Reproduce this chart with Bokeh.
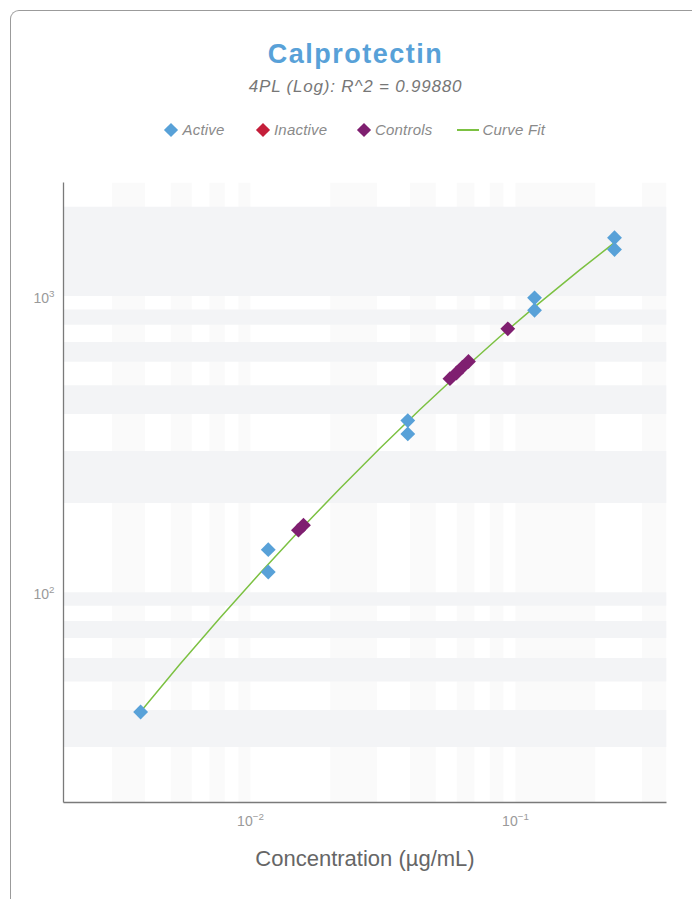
import math

from bokeh.embed import file_html
from bokeh.layouts import column
from bokeh.models import Div, FixedTicker
from bokeh.plotting import figure
from bokeh.resources import INLINE

# Calprotectin standard curve: concentration (µg/mL) vs. signal
active_conc = [0.00385, 0.01167, 0.01167, 0.03923, 0.03923, 0.1180, 0.1180, 0.2364, 0.2364]
active_signal = [39.4, 139.2, 117.0, 379.8, 342.4, 986.1, 895.5, 1572.8, 1436.0]

inactive_conc = []
inactive_signal = []

control_conc = [0.01517, 0.01585, 0.05658, 0.05989, 0.0631, 0.06647, 0.09353]
control_signal = [162.0, 168.4, 526.0, 549.5, 575.6, 600.9, 775.0]

# 4PL (log) fitted curve
fit_conc = [0.003862, 0.005396, 0.007638, 0.010813, 0.015308, 0.021670, 0.030682,
            0.043422, 0.061473, 0.087013, 0.12319, 0.17440, 0.23434]
fit_signal = [39.63, 56.90, 81.49, 115.37, 161.47, 223.18, 305.12,
              412.3, 550.7, 726.9, 948.5, 1223.2, 1504.7]

x_span = (0.00197, 0.3714)
y_span = (19.5, 2417.0)

title_text = "Calprotectin"
subtitle_text = "4PL (Log): R^2 = 0.99880"
x_title = "Concentration (µg/mL)"
legend_labels = ["Active", "Inactive", "Controls", "Curve Fit"]

FONT = "Liberation Sans"
BLUE = "#58a1d8"
RED = "#c41e3a"
PURPLE = "#7f1f70"
GREEN = "#7cc142"
CARD = "#9b9b9b"


def band_ticks(lo, hi):
    """Sub-decade values (1..9 x 10^k) inside (lo, hi), closed with the range end.

    The first value is dropped so that the shaded bands start on the
    second sub-division.
    """
    ticks = []
    for k in range(math.floor(math.log10(lo)), math.ceil(math.log10(hi)) + 1):
        for m in range(1, 10):
            t = m * 10.0 ** k
            if lo < t < hi:
                ticks.append(t)
    return ticks[1:] + [hi]


W = 681            # inner card width
HEAD_H = 150       # header block (title, subtitle, legend)
PLOT_H = 888 - HEAD_H
LEFT, RIGHT, TOP, BOTTOM = 52, 26, 21, 97

p = figure(
    width=W, height=PLOT_H,
    x_axis_type="log", y_axis_type="log",
    x_range=x_span, y_range=y_span,
    output_backend="svg", toolbar_location=None,
    min_border_left=LEFT, min_border_right=RIGHT,
    min_border_top=TOP, min_border_bottom=BOTTOM,
    margin=0,
)
p.outline_line_color = None
p.background_fill_color = "white"
p.border_fill_color = "white"

# alternating shaded bands between the log sub-divisions
p.xgrid.ticker = FixedTicker(ticks=band_ticks(*x_span))
p.xgrid.grid_line_color = None
p.xgrid.band_fill_color = "#fafafa"
p.xgrid.band_fill_alpha = 1.0
p.ygrid.ticker = FixedTicker(ticks=band_ticks(*y_span))
p.ygrid.grid_line_color = None
p.ygrid.band_fill_color = "#f3f4f6"
p.ygrid.band_fill_alpha = 1.0

for ax in (p.xaxis, p.yaxis):
    ax.axis_line_color = "#7a7a7a"
    ax.axis_line_width = 1.3
    ax.major_tick_line_color = None
    ax.minor_tick_line_color = None
    ax.major_tick_out = 0
    ax.minor_tick_out = 0
    ax.major_label_text_color = "#9a9a9a"
    ax.major_label_text_font = FONT
    ax.major_label_text_font_size = "14px"

p.xaxis.major_label_standoff = 9
p.yaxis.major_label_standoff = 9
p.xaxis.axis_label = x_title
p.xaxis.axis_label_text_font = FONT
p.xaxis.axis_label_text_font_size = "22px"
p.xaxis.axis_label_text_font_style = "normal"
p.xaxis.axis_label_text_color = "#666666"
p.xaxis.axis_label_standoff = 17

p.line(fit_conc, fit_signal, line_color=GREEN, line_width=1.5)
marker_style = dict(marker="square", angle=math.pi / 4, size=10.5, line_color=None)
p.scatter(active_conc, active_signal, fill_color=BLUE, **marker_style)
p.scatter(inactive_conc, inactive_signal, fill_color=RED, **marker_style)
p.scatter(control_conc, control_signal, fill_color=PURPLE, **marker_style)

# ---- header: title, subtitle and a one-row legend ----
CENTER = 344.5
legend_keys = [
    ("diamond", BLUE, 153.0),
    ("diamond", RED, 244.5),
    ("diamond", PURPLE, 345.5),
    ("line", GREEN, 445.5),
]


def legend_entry(label, kind, color, left):
    if kind == "diamond":
        key = (f'<span style="display:inline-block;width:10px;height:10px;'
               f'background:{color};transform:rotate(45deg);margin:0 6.5px 0 2px;"></span>')
    else:
        key = (f'<span style="display:inline-block;width:22px;height:2px;'
               f'background-color:{color};margin:0 4px 0 0;"></span>')
    return (f'<div style="position:absolute;left:{left}px;top:108.5px;height:20px;'
            f'display:flex;align-items:center;white-space:nowrap;font-size:15px;'
            f'letter-spacing:0.2px;font-style:italic;color:#8a8a8a;">{key}{label}</div>')


entries = "".join(
    legend_entry(label, kind, color, left)
    for label, (kind, color, left) in zip(legend_labels, legend_keys)
)
header_html = (
    f'<div style="position:relative;width:{W}px;height:{HEAD_H}px;'
    f'font-family:\'{FONT}\',Arial,sans-serif;">'
    f'<div style="position:absolute;left:{CENTER - 300}px;top:29.6px;width:600px;'
    f'text-align:center;font-size:27px;line-height:27px;font-weight:bold;'
    f'letter-spacing:1.5px;color:{BLUE};">{title_text}</div>'
    f'<div style="position:absolute;left:{CENTER - 300}px;top:67px;width:600px;'
    f'text-align:center;font-size:17px;line-height:17px;font-style:italic;'
    f'letter-spacing:0.8px;color:#777777;">{subtitle_text}</div>'
    f'{entries}</div>'
)
header = Div(text=header_html, width=W, height=HEAD_H, margin=0)

# the card: only its left and top edges fall inside the page
card = column(
    header, p,
    spacing=0,
    styles={
        "margin-left": "10px",
        "margin-top": "10px",
        "border-left": f"1.5px solid {CARD}",
        "border-top": f"1.5px solid {CARD}",
        "border-top-left-radius": "9px",
    },
)

with open("out.html", "w", encoding="utf-8") as f:
    f.write(file_html(card, INLINE))
